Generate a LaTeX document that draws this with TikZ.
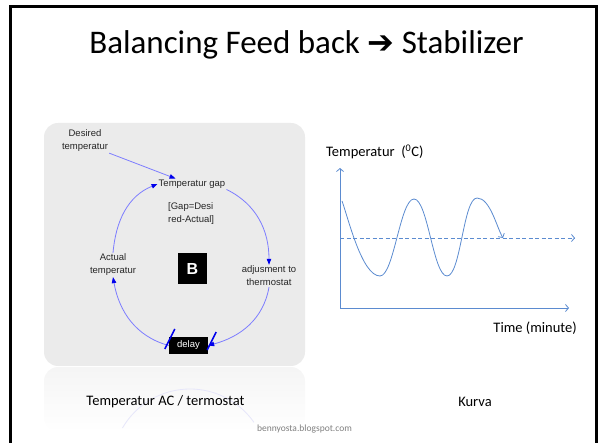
\documentclass[tikz,border=0pt]{standalone}
\usepackage{fontspec}
\setmainfont{Carlito}
\newfontfamily\arialfont{Liberation Sans}
\newfontfamily\arrowfont{DejaVu Sans}
\usetikzlibrary{arrows.meta}
\definecolor{panelgrey}{RGB}{235,235,235}
\definecolor{faintloop}{RGB}{230,230,250}
\definecolor{looplight}{RGB}{125,125,255}
\definecolor{loopdark}{RGB}{0,0,235}
\definecolor{chartblue}{RGB}{91,139,208}
\begin{document}
\begin{tikzpicture}[x=1pt,y=1pt,
	every node/.style={align=center,inner sep=1pt},
	loopnode/.style={font=\arialfont\fontsize{9.5}{13}\selectfont,text=black!85},
	loopedge/.style={looplight,line width=0.8pt,-{Triangle[loopdark,fill=loopdark,length=6pt,width=4.5pt]}},
	blackbox/.style={fill=black,text=white},
	delaymark/.style={loopdark,line width=1.5pt},
	chartline/.style={chartblue,line width=0.8pt},
	charttip/.style={-{Straight Barb[length=3pt,width=7pt]}},
	wave/.style={out=0,in=180,looseness=0.42},
	caption/.style={font=\fontsize{14.5}{16}\selectfont}]
	\useasboundingbox (0,0) rectangle (605,-443);
	\draw[line width=3pt] (10.5,-443) -- (10.5,-6.5) -- (596.5,-6.5) -- (596.5,-443);
	\node[font=\fontsize{33}{36}\selectfont] (title) at (306.5,-45) {Balancing Feed back {\arrowfont\bfseries\fontsize{32}{36}\selectfont ➔} Stabilizer};
	% loop panel and its reflection
	\fill[panelgrey,rounded corners=14pt] (44,-123) rectangle (305,-366);
	\shade[top color=gray!8,bottom color=white,rounded corners=14pt] (44,-367) rectangle (305,-432);
	\draw[faintloop,line width=0.8pt] (190,-467) ++(150:78) arc[start angle=150,end angle=35,radius=78];
	\node[loopnode] (desired) at (85,-141) {Desired\\temperatur};
	\node[loopnode] (gap) at (192,-184) {Temperatur gap};
	\node[loopnode,align=left,anchor=west] (formula) at (167,-214) {[Gap=Desi\\red-Actual]};
	\node[loopnode] (actual) at (113,-265) {Actual\\temperatur};
	\node[loopnode] (adjust) at (269,-276) {adjusment to\\thermostat};
	\node[blackbox,minimum width=29pt,minimum height=31pt,font=\arialfont\bfseries\fontsize{16}{16}\selectfont] (bal) at (192.5,-268.5) {B};
	\node[blackbox,minimum width=39pt,minimum height=17pt,font=\arialfont\fontsize{9.5}{11}\selectfont] (delay) at (188.5,-345.5) {delay};
	\draw[loopedge] (desired.south east) -- ([xshift=18pt]gap.north west);
	\draw[loopedge] (gap.south east) to[out=-26,in=90] (adjust.north);
	\draw[loopedge] (adjust.south) to[out=-100,in=15] (delay.east);
	\draw[loopedge] (delay.west) to[out=165,in=-80] (actual.south);
	\draw[loopedge] (actual.north) to[out=85,in=202] (gap.west);
	\draw[delaymark] (delay.west) ++(-4,-3.5) -- ++(10,20);
	\draw[delaymark] (delay.east) ++(-1,-4.5) -- ++(9,18);
	% curve
	\coordinate (origin) at (340,-308);
	\draw[chartline,charttip] (origin) -- (340,-168);
	\draw[chartline,charttip] (origin) -- (569,-308);
	\draw[chartline,dash pattern=on 4pt off 2.5pt,charttip] (340,-238) -- (575,-238);
	\draw[chartline,charttip] (342,-201) to[out=-70,in=180,looseness=0.55] (380,-276) to[wave] (414,-199)
		to[wave] (447,-276) to[wave] (477,-198) to[out=0,in=120,looseness=0.7] (503,-238);
	\node[caption,anchor=west] (ylabel) at (325,-152) {Temperatur\ \ (\textsuperscript{0}C)};
	\node[caption,anchor=east] (xlabel) at (578,-328) {Time (minute)};
	\node[caption] (leftcap) at (165.5,-402) {Temperatur AC / termostat};
	\node[caption] (rightcap) at (475,-402) {Kurva};
	\node[font=\fontsize{9.5}{10}\selectfont,text=gray] (source) at (304.5,-429) {bennyosta.blogspot.com};
\end{tikzpicture}
\end{document}
